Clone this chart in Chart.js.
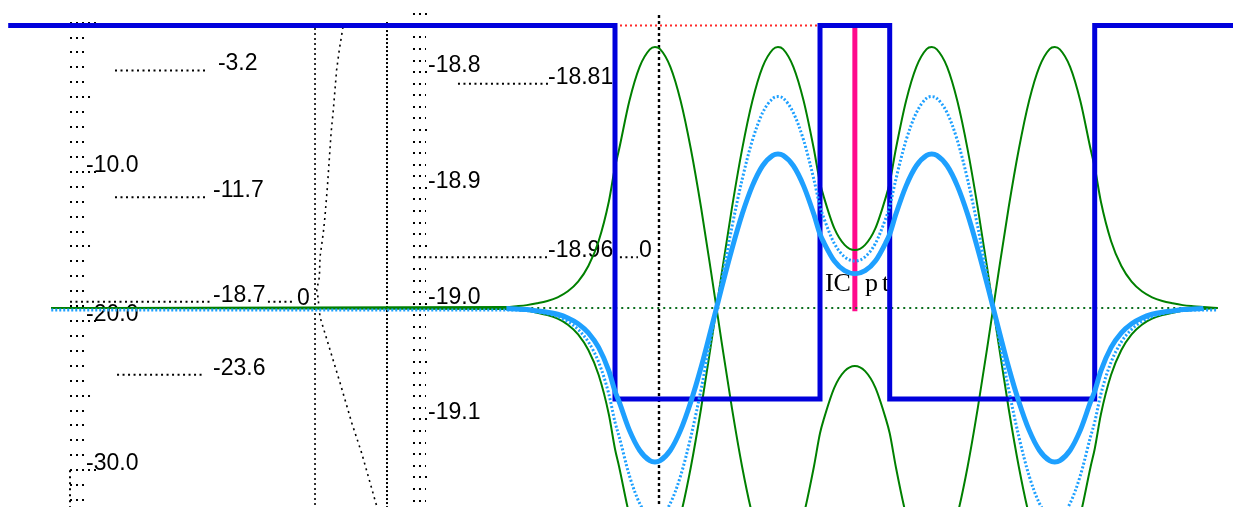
<!DOCTYPE html>
<html>
<head>
<meta charset="utf-8">
<script src="https://cdn.jsdelivr.net/npm/chart.js@4.4.1/dist/chart.umd.min.js"></script>
<style>
  html, body { margin: 0; padding: 0; background: #ffffff; overflow: hidden; }
  canvas { display: block; }
</style>
</head>
<body>
<canvas id="plot" width="1233" height="507"></canvas>
<script>
// ---------------- data ----------------
// position along the double quantum well (nm)
const positionNm = [-27.5, -5.3, -4.8, -4.3, -3.8, -3.3, -2.8, -2.3, -1.8, -1.3, -0.8, -0.3, 0, 0.2, 0.7, 1.2, 1.7, 1.95, 2.2, 2.7,
  3.2, 3.7, 4.2, 4.7, 5.2, 5.7, 6.2, 6.7, 7.2, 7.7, 7.95, 8.2, 8.7, 9.2, 9.7, 10, 10.2, 10.7, 11.2, 11.7,
  12.2, 12.7, 13.2, 13.4, 13.7, 14.2, 14.7, 15.2, 15.45, 15.7, 16.2, 16.7, 17.2, 17.7, 18.2, 18.7, 19.2, 19.7, 20.2,
  20.7, 21.2, 21.45, 21.7, 22.2, 22.7, 23.2, 23.4, 23.7, 24.2, 24.7, 25.2, 25.7, 26.2, 26.7, 27.2, 27.7, 28.2, 28.7, 29.4];

// wavefunction envelope (+ branch and - branch)
const psiUpper = [0, 0.004, 0.007, 0.011, 0.018, 0.027, 0.041, 0.064, 0.101, 0.161, 0.256, 0.408, 0.54, 0.608, 0.793, 0.924, 0.991, 1.0, 0.992, 0.924,
  0.794, 0.609, 0.384, 0.131, -0.130, -0.382, -0.608, -0.793, -0.924, -0.991, -1.0, -0.992, -0.924, -0.794, -0.609, -0.480, -0.422, -0.305, -0.242, -0.222,
  -0.242, -0.305, -0.422, -0.480, -0.609, -0.794, -0.924, -0.992, -1.0, -0.991, -0.924, -0.793, -0.608, -0.382, -0.130, 0.131, 0.384, 0.609, 0.794,
  0.924, 0.992, 1.0, 0.991, 0.924, 0.793, 0.608, 0.54, 0.408, 0.256, 0.161, 0.101, 0.064, 0.041, 0.027, 0.018, 0.011, 0.007, 0.004, 0];
const psiLower = [0, -0.004, -0.007, -0.011, -0.018, -0.027, -0.041, -0.064, -0.101, -0.161, -0.256, -0.408, -0.54, -0.608, -0.793, -0.924, -0.991, -1.0, -0.992, -0.924,
  -0.794, -0.609, -0.384, -0.131, 0.130, 0.382, 0.608, 0.793, 0.924, 0.991, 1.0, 0.992, 0.924, 0.794, 0.609, 0.480, 0.422, 0.305, 0.242, 0.222,
  0.242, 0.305, 0.422, 0.480, 0.609, 0.794, 0.924, 0.992, 1.0, 0.991, 0.924, 0.793, 0.608, 0.382, 0.130, -0.131, -0.384, -0.609, -0.794,
  -0.924, -0.992, -1.0, -0.991, -0.924, -0.793, -0.608, -0.54, -0.408, -0.256, -0.161, -0.101, -0.064, -0.041, -0.027, -0.018, -0.011, -0.007, -0.004, 0];

// snapshots of the evolving state (solid and dotted light-blue traces)
const psiSolid = [null, -0.002, -0.004, -0.006, -0.011, -0.016, -0.024, -0.038, -0.060, -0.095, -0.151, -0.241, -0.319, -0.359, -0.468, -0.545, -0.585, -0.59, -0.585, -0.545,
  -0.468, -0.359, -0.227, -0.077, 0.077, 0.225, 0.359, 0.468, 0.545, 0.585, 0.59, 0.585, 0.545, 0.468, 0.359, 0.283, 0.249, 0.180, 0.143, 0.131,
  0.143, 0.180, 0.249, 0.283, 0.359, 0.468, 0.545, 0.585, 0.59, 0.585, 0.545, 0.468, 0.359, 0.225, 0.077, -0.077, -0.227, -0.359, -0.468,
  -0.545, -0.585, -0.59, -0.585, -0.545, -0.468, -0.359, -0.319, -0.241, -0.151, -0.095, -0.060, -0.038, -0.024, -0.016, -0.011, -0.006, -0.004, -0.002, null];
const psiDotted = [-0.008, -0.008, -0.008, -0.010, -0.015, -0.022, -0.033, -0.052, -0.082, -0.130, -0.207, -0.330, -0.437, -0.492, -0.642, -0.748, -0.803, -0.81, -0.804, -0.748,
  -0.643, -0.493, -0.311, -0.106, 0.105, 0.309, 0.492, 0.642, 0.748, 0.803, 0.81, 0.804, 0.748, 0.643, 0.493, 0.389, 0.342, 0.247, 0.196, 0.180,
  0.196, 0.247, 0.342, 0.389, 0.493, 0.643, 0.748, 0.804, 0.81, 0.803, 0.748, 0.642, 0.492, 0.309, 0.105, -0.106, -0.311, -0.493, -0.643,
  -0.748, -0.804, -0.81, -0.803, -0.748, -0.642, -0.492, -0.437, -0.330, -0.207, -0.130, -0.082, -0.052, -0.033, -0.022, -0.015, -0.010, -0.008, -0.008, -0.008];

// conduction band profile (barrier = 0, well bottom = -1)
const bandNm = [-29.6, 0, 0, 10, 10, 13.4, 13.4, 23.4, 23.4, 30.2];
const bandLevel = [0, 0, -1, -1, 0, 0, -1, -1, 0, 0];

// left energy panel
const leftTickValues = [-10, -20, -30];
const leftTickLabels = ['-10.0', '-20.0', '-30.0'];
const leftLevels = [-3.2, -11.7, -18.7, -23.6];
const leftLevelLabels = ['-3.2', '-11.7', '-18.7', '-23.6'];

// middle (zoomed) energy panel
const midTickValues = [-18.8, -18.9, -19.0, -19.1];
const midTickLabels = ['-18.8', '-18.9', '-19.0', '-19.1'];
const midLevels = [-18.81, -18.96];
const midLevelLabels = ['-18.81', '-18.96'];

// level sweep trace between the panels
const sweepNm = [-13.27, -13.45, -13.58, -13.66, -13.74, -13.85, -13.94, -14.03, -14.15, -14.23, -14.39, -14.42, -14.55, -14.49, -14.39, -13.90, -13.41, -12.84, -12.36, -11.71, -11.61];
const sweepE = [-0.29, -1.83, -3.17, -4.51, -5.85, -7.40, -9.21, -11.02, -13.03, -14.09, -15.71, -17.05, -17.92, -18.39, -19.73, -21.94, -24.15, -26.83, -28.84, -31.99, -32.46];

// vertical guide lines (position, top energy)
const guideNm = [-14.634, -11.122, 2.146];
const guideTopE = [-0.36, 0.04, 0.51];

// interaction point marker
const icPointNm = 11.7;

// ---------------- layout (drawing positions, in axis units) ----------------
const LAYOUT = {
  leftAxisNm: -26.585,
  leftLabelNm: -25.8,
  leftLevelSpans: [[-24.39, -20.0], [-24.39, -20.0], [-26.585, -19.76], [-24.29, -20.0]],
  leftLevelTextNm: [-19.37, -19.61, -19.61, -19.61],
  midAxisNm: -9.854,
  midLabelNm: -9.122,
  midLevelSpans: [[-7.66, -3.27], [-9.854, -3.27]],
  midLevelTextNm: [-3.27, -3.27],
  leftZeroTail: [-16.93, -15.61, -15.51],
  midZeroTail: [0.24, 1.12, 1.17],
  icText: [10.24, 12.2, 13.02],
  icBaseline: 0.065
};

const BLUE = '#0000dc', GREEN = '#008000', LIGHT = '#1ea0ff', PINK = '#ff0a8c';

// ---------------- datasets ----------------
const datasets = [];
const pts = (xs, ys) => xs.map((x, i) => ({ x: x, y: ys[i] }));
function addLine(data, axis, color, width, dash, extra) {
  datasets.push(Object.assign({
    data: data, yAxisID: axis, borderColor: color, borderWidth: width,
    borderDash: dash || [], showLine: true, pointRadius: 0, pointHoverRadius: 0,
    fill: false, tension: 0, borderCapStyle: 'butt', borderJoinStyle: 'miter', spanGaps: false
  }, extra || {}));
}

// sweep trace and guides
addLine(pts(sweepNm, sweepE), 'yE', '#000', 1.6, [2, 4]);
guideNm.forEach((g, i) => {
  const styles = [[1.6, [2, 3]], [2, [2, 2]], [2.4, [3, 3]]][i];
  addLine([{ x: g, y: guideTopE[i] }, { x: g, y: -32.46 }], 'yE', '#000', styles[0], styles[1]);
});

// energy level lines
leftLevels.forEach((v, i) => {
  const s = LAYOUT.leftLevelSpans[i];
  addLine([{ x: s[0], y: v }, { x: s[1], y: v }], 'yE', '#000', 2, [2, 3.5]);
});
addLine([{ x: LAYOUT.leftZeroTail[0], y: leftLevels[2] }, { x: LAYOUT.leftZeroTail[1], y: leftLevels[2] }], 'yE', '#000', 2, [2, 3.5]);
midLevels.forEach((v, i) => {
  const s = LAYOUT.midLevelSpans[i];
  addLine([{ x: s[0], y: v }, { x: s[1], y: v }], 'yM', '#000', 2, [2, 3.5]);
});
addLine([{ x: LAYOUT.midZeroTail[0], y: midLevels[1] }, { x: LAYOUT.midZeroTail[1], y: midLevels[1] }], 'yM', '#000', 2, [2, 3.5]);

// barrier reference over the left well, interaction point marker
addLine([{ x: 0, y: 0 }, { x: 10, y: 0 }], 'yV', '#ff2a2a', 2, [2, 3]);
addLine([{ x: icPointNm, y: -0.012 }, { x: icPointNm, y: 1.08 }], 'yP', PINK, 5);

// zero line of the wavefunction axis
addLine([{ x: -27.5, y: 0 }, { x: 29.4, y: 0 }], 'yP', '#0a6e1e', 2, [2, 4]);

// wavefunction envelope
addLine(pts(positionNm, psiUpper), 'yP', GREEN, 2, [], { cubicInterpolationMode: 'monotone' });
addLine(pts(positionNm, psiLower), 'yP', GREEN, 2, [], { cubicInterpolationMode: 'monotone' });

// band profile
addLine(pts(bandNm, bandLevel), 'yV', BLUE, 5);

// state snapshots
addLine(pts(positionNm, psiDotted), 'yP', LIGHT, 3, [2, 2], { cubicInterpolationMode: 'monotone' });
addLine(pts(positionNm, psiSolid), 'yP', LIGHT, 5, [], { cubicInterpolationMode: 'monotone' });

datasets.forEach((d, i) => { d.order = -i; });

// ---------------- axis decorations and labels ----------------
const TEXT_FONT = '23px "Liberation Sans", Arial, sans-serif';
const SERIF_FONT = '26px "Liberation Serif", "Times New Roman", serif';

function dottedH(ctx, x0, x1, y) {
  ctx.beginPath(); ctx.moveTo(x0, y); ctx.lineTo(x1, y); ctx.stroke();
}

const annotations = {
  id: 'annotations',
  beforeDatasetsDraw(chart) {
    const ctx = chart.ctx;
    const X = chart.scales.x, E = chart.scales.yE, M = chart.scales.yM, P = chart.scales.yP;
    ctx.save();
    ctx.strokeStyle = '#000';
    ctx.lineWidth = 2;
    ctx.setLineDash([2, 4]);

    // left energy axis: a dotted tick every 1
    const lx = X.getPixelForValue(LAYOUT.leftAxisNm);
    for (let v = 0; v >= -32; v--) {
      const len = v % 10 === 0 ? 30 : (v % 5 === 0 ? 24 : 17);
      dottedH(ctx, lx, lx + len, Math.round(E.getPixelForValue(v)));
    }
    ctx.beginPath();
    ctx.moveTo(lx, E.getPixelForValue(-30));
    ctx.lineTo(lx, E.getPixelForValue(E.min));
    ctx.stroke();

    // middle energy axis: a dotted tick every 0.01
    const mx = X.getPixelForValue(LAYOUT.midAxisNm);
    for (let k = 1; k <= 44; k++) {
      const v = -18.74 - k * 0.01;
      const len = k % 5 === 1 ? 18 : 13;
      dottedH(ctx, mx, mx + len, Math.round(M.getPixelForValue(v)));
    }
    ctx.setLineDash([]);

    ctx.fillStyle = '#000';
    ctx.font = TEXT_FONT;
    ctx.textAlign = 'left';
    ctx.textBaseline = 'alphabetic';
    leftTickValues.forEach((v, i) => {
      ctx.fillText(leftTickLabels[i], X.getPixelForValue(LAYOUT.leftLabelNm), E.getPixelForValue(v));
    });
    midTickValues.forEach((v, i) => {
      ctx.fillText(midTickLabels[i], X.getPixelForValue(LAYOUT.midLabelNm), M.getPixelForValue(v));
    });
    leftLevels.forEach((v, i) => {
      ctx.fillText(leftLevelLabels[i], X.getPixelForValue(LAYOUT.leftLevelTextNm[i]), E.getPixelForValue(v));
    });
    midLevels.forEach((v, i) => {
      ctx.fillText(midLevelLabels[i], X.getPixelForValue(LAYOUT.midLevelTextNm[i]), M.getPixelForValue(v));
    });
    ctx.fillText('0', X.getPixelForValue(LAYOUT.leftZeroTail[2]), E.getPixelForValue(leftLevels[2]) + 3);
    ctx.fillText('0', X.getPixelForValue(LAYOUT.midZeroTail[2]), M.getPixelForValue(midLevels[1]));

    ctx.font = SERIF_FONT;
    const by = P.getPixelForValue(LAYOUT.icBaseline);
    ctx.fillText('IC', X.getPixelForValue(LAYOUT.icText[0]), by);
    ctx.fillText('p', X.getPixelForValue(LAYOUT.icText[1]), by);
    ctx.fillText('t', X.getPixelForValue(LAYOUT.icText[2]), by);
    ctx.restore();
  }
};

const hidden = (min, max) => ({ type: 'linear', min: min, max: max, display: false });

new Chart(document.getElementById('plot'), {
  type: 'scatter',
  data: { datasets: datasets },
  options: {
    responsive: false,
    animation: false,
    devicePixelRatio: 1,
    events: [],
    layout: { padding: 0 },
    plugins: { legend: { display: false }, tooltip: { enabled: false } },
    scales: {
      x: hidden(-30, 30.146),
      yE: Object.assign(hidden(-32.464, 1.5174), { position: 'left' }),
      yM: Object.assign(hidden(-19.17559, -18.73773), { position: 'left' }),
      yP: Object.assign(hidden(-0.76245, 1.18008), { position: 'left' }),
      yV: Object.assign(hidden(-1.28916, 0.06827), { position: 'left' })
    }
  },
  plugins: [annotations]
});
</script>
</body>
</html>
